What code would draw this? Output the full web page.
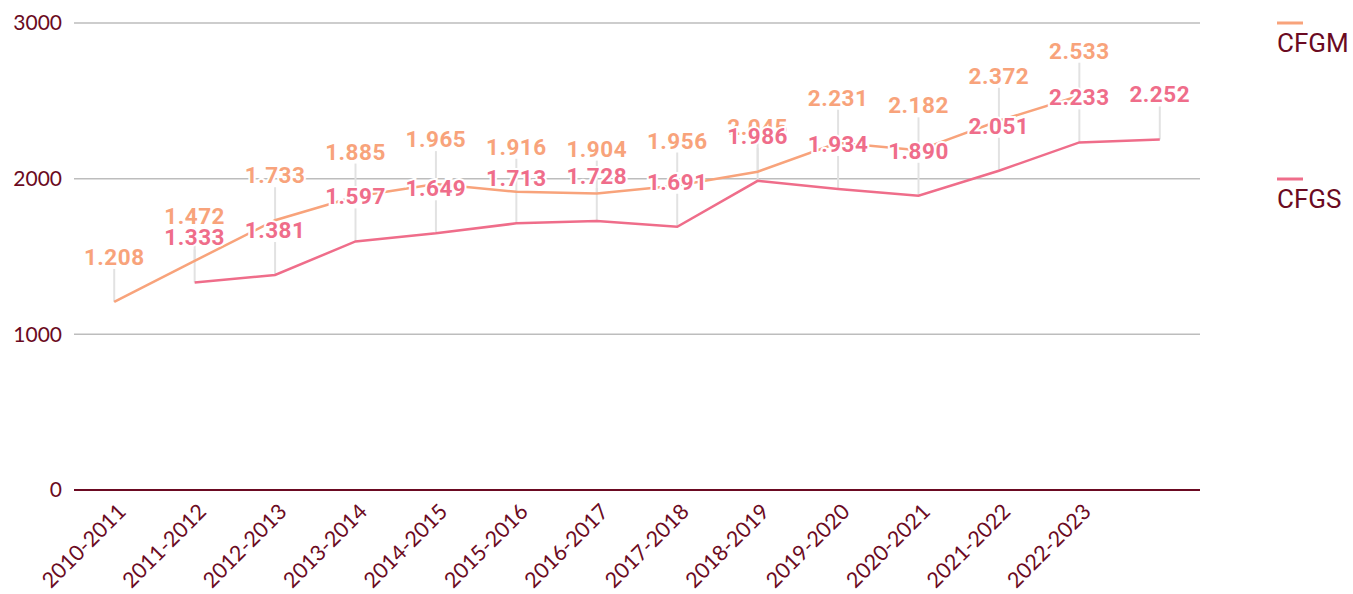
<!DOCTYPE html>
<html>
<head>
<meta charset="utf-8">
<script src="https://cdn.jsdelivr.net/npm/d3@7"></script>
<style>
  body { margin: 0; background: #fff; }
  svg { display: block; }
</style>
</head>
<body>
<div id="chart"></div>
<script>
// Chart size.
const WIDTH = 1353;
const HEIGHT = 594;
const M = { top: 23, right: 153, bottom: 104, left: 74 };

const MAROON = "#6b0a22";

// Academic years (14 slots; the last one has no label in the source).
const categories = [
  "2010-2011", "2011-2012", "2012-2013", "2013-2014", "2014-2015",
  "2015-2016", "2016-2017", "2017-2018", "2018-2019", "2019-2020",
  "2020-2021", "2021-2022", "2022-2023", "2023-2024",
];
const tickLabels = categories.slice(0, 13);

// Series values (null = no value for that year).
const cfgm = [1208, 1472, 1733, 1885, 1965, 1916, 1904, 1956, 2045, 2231, 2182, 2372, 2533, null];
const cfgs = [null, 1333, 1381, 1597, 1649, 1713, 1728, 1691, 1986, 1934, 1890, 2051, 2233, 2252];

const yTicks = [0, 1000, 2000, 3000];

const series = [
  { name: "CFGM", values: cfgm, color: "#f8a37b" },
  { name: "CFGS", values: cfgs, color: "#ef6d8a" },
];

const svg = d3
  .select("#chart")
  .append("svg")
  .attr("width", WIDTH)
  .attr("height", HEIGHT);

const x = d3
  .scaleBand()
  .domain(categories)
  .range([M.left, WIDTH - M.right]);

const y = d3
  .scaleLinear()
  .domain([0, 3000])
  .range([HEIGHT - M.bottom, M.top]);

const cx = (i) => x(categories[i]) + x.bandwidth() / 2;

// Grid lines.
svg
  .append("g")
  .selectAll("line")
  .data(yTicks.filter((d) => d > 0))
  .join("line")
  .attr("x1", M.left)
  .attr("x2", WIDTH - M.right)
  .attr("y1", (d) => y(d))
  .attr("y2", (d) => y(d))
  .attr("stroke", "#bdbdbd")
  .attr("stroke-width", 1.5);

// Y labels.
svg
  .append("g")
  .selectAll("text")
  .data(yTicks)
  .join("text")
  .attr("x", M.left - 12)
  .attr("y", (d) => y(d))
  .attr("dy", "0.35em")
  .attr("text-anchor", "end")
  .attr("fill", MAROON)
  .style("font", "21px Lato, sans-serif")
  .text((d) => d);

// Baseline.
svg
  .append("line")
  .attr("x1", M.left)
  .attr("x2", WIDTH - M.right)
  .attr("y1", y(0))
  .attr("y2", y(0))
  .attr("stroke", MAROON)
  .attr("stroke-width", 2);

// X labels, rotated.
svg
  .append("g")
  .selectAll("text")
  .data(tickLabels)
  .join("text")
  .attr("transform", (d, i) => "translate(" + (cx(i) + 13) + "," + (y(0) + 23) + ") rotate(-45)")
  .attr("text-anchor", "end")
  .attr("fill", MAROON)
  .style("font", "21.5px Lato, sans-serif")
  .text((d) => d);

// Points with values, per series.
const pts = series.map((s) =>
  s.values
    .map((v, i) => ({ i, v, s }))
    .filter((d) => d.v != null)
);

const LEAD = 33;
const LIFT = 37;

// Leader lines from each point up to its label.
svg
  .append("g")
  .selectAll("line")
  .data(pts.flat())
  .join("line")
  .attr("x1", (d) => cx(d.i))
  .attr("x2", (d) => cx(d.i))
  .attr("y1", (d) => y(d.v))
  .attr("y2", (d) => y(d.v) - LEAD)
  .attr("stroke", "#e2e2e2")
  .attr("stroke-width", 2);

// Lines.
const line = d3
  .line()
  .x((d) => cx(d.i))
  .y((d) => y(d.v));

svg
  .append("g")
  .selectAll("path")
  .data(pts)
  .join("path")
  .attr("d", line)
  .attr("fill", "none")
  .attr("stroke", (d, k) => series[k].color)
  .attr("stroke-width", 2.5);

// Value labels (Spanish style thousands separator).
const fmt = (v) => (v / 1000).toFixed(3);

pts.forEach((p) => {
  svg
    .append("g")
    .selectAll("text")
    .data(p)
    .join("text")
    .attr("x", (d) => cx(d.i))
    .attr("y", (d) => y(d.v) - LIFT)
    .attr("text-anchor", "middle")
    .attr("fill", (d) => d.s.color)
    .attr("stroke", "#fff")
    .attr("stroke-width", 4)
    .attr("paint-order", "stroke")
    .style("font", "bold 22.5px Roboto, sans-serif")
    .style("letter-spacing", "0.5px")
    .text((d) => fmt(d.v));
});

// Legend.
const legend = svg
  .append("g")
  .selectAll("g")
  .data(series)
  .join("g")
  .attr("transform", (d, i) => "translate(1277," + (23 + i * 156) + ")");

legend
  .append("line")
  .attr("x1", 0)
  .attr("x2", 26)
  .attr("stroke", (d) => d.color)
  .attr("stroke-width", 3);

legend
  .append("text")
  .attr("x", 0)
  .attr("y", 29)
  .attr("fill", MAROON)
  .style("font", "26px Roboto, sans-serif")
  .text((d) => d.name);
</script>
</body>
</html>
